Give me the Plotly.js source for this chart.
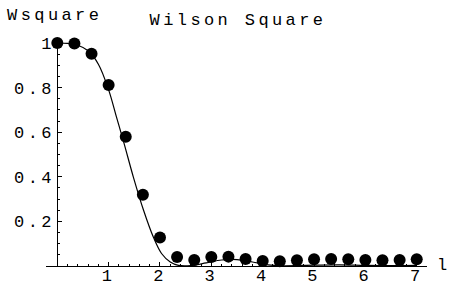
<!DOCTYPE html>
<html>
<head>
<meta charset="utf-8">
<script src="https://cdn.plot.ly/plotly-3.0.1.min.js"></script>
<style>
  html, body { margin: 0; padding: 0; background: #fff; }
  #chart text { letter-spacing: 3.4px; }
  #chart .annotation[data-index="1"] text { letter-spacing: 0; }
</style>
</head>
<body>
<div id="chart" style="width:449px;height:286px;"></div>
<script>
// Sampled points (dots)
const pointL = [0, 0.333, 0.667, 1, 1.333, 1.667, 2, 2.333, 2.667, 3, 3.333, 3.667,
                4, 4.333, 4.667, 5, 5.333, 5.667, 6, 6.333, 6.667, 7];
const pointW = [1.0, 0.998, 0.952, 0.812, 0.58, 0.319, 0.128, 0.04, 0.027, 0.04, 0.042, 0.031,
                0.022, 0.021, 0.026, 0.030, 0.031, 0.030, 0.027, 0.026, 0.027, 0.030];

// Continuous curve
const curveL = [0, 0.2, 0.4, 0.6, 0.8, 1.0, 1.15, 1.3, 1.48, 1.68, 1.87, 2.03, 2.2, 2.36,
                2.6, 2.9, 3.2, 3.5, 3.8, 4.1, 4.4, 5.0, 5.5, 6.0, 6.5, 7.0];
const curveW = [1.0, 0.998, 0.99, 0.965, 0.905, 0.79, 0.67, 0.55, 0.40, 0.25, 0.13, 0.056, 0.018, 0.003,
                0.002, 0.014, 0.027, 0.029, 0.018, 0.005, 0.001, 0.004, 0.005, 0.003, 0.002, 0.003];

const xTickVals = [1, 2, 3, 4, 5, 6, 7];
const xTickText = ['1', '2', '3', '4', '5', '6', '7'];
const yTickVals = [0.2, 0.4, 0.6, 0.8, 1];
const yTickText = ['0.2', '0.4', '0.6', '0.8', '1'];
const xMinorVals = [];
for (let i = 1; i <= 36; i++) xMinorVals.push(i * 0.2);
const yMinorVals = [];
for (let i = 1; i <= 20; i++) yMinorVals.push(i * 0.05);

const FONT = 'Liberation Mono, Courier New, monospace';
const FS = 17;
const W = 449, H = 286;
const mL = 46, mR = 22, mT = 42, mB = 20;
const xRange = [-0.22, 7.2];
const yPos = (0 - xRange[0]) / (xRange[1] - xRange[0]);
const pw = W - mL - mR, ph = H - mT - mB;
function px2paperX(px) { return (px - mL) / pw; }
function px2paperY(py) { return (H - mB - py) / ph; }

const traces = [
  {
    x: curveL, y: curveW, type: 'scatter', mode: 'lines',
    line: { color: '#000', width: 1.2, shape: 'spline', smoothing: 1 },
    hoverinfo: 'skip'
  },
  {
    x: pointL, y: pointW, type: 'scatter', mode: 'markers',
    marker: { color: '#000', size: 12 },
    cliponaxis: false
  }
];

const layout = {
  width: W, height: H,
  margin: { l: mL, r: mR, t: mT, b: mB, pad: 0 },
  paper_bgcolor: '#fff', plot_bgcolor: '#fff',
  showlegend: false,
  font: { family: FONT, size: FS, color: '#000' },
  title: {
    text: 'Wilson Square',
    font: { family: FONT, size: FS, color: '#000' },
    xref: 'paper', x: px2paperX(238), xanchor: 'center',
    yref: 'container', y: 1 - 19 / H, yanchor: 'middle'
  },
  xaxis: {
    range: xRange, showgrid: false, zeroline: false,
    showline: true, linecolor: '#000', linewidth: 1,
    ticks: 'inside', ticklen: 4, tickwidth: 1, tickcolor: '#000',
    tickmode: 'array', tickvals: xTickVals, ticktext: xTickText,
    ticklabelstandoff: -6,
    tickfont: { family: FONT, size: FS, color: '#000' },
    minor: { tickmode: 'array', tickvals: xMinorVals, ticks: 'inside', ticklen: 2, tickwidth: 1, tickcolor: '#000', showgrid: false }
  },
  yaxis: {
    range: [0, 1.0045], showgrid: false, zeroline: false,
    anchor: 'free', position: yPos, side: 'left',
    showline: true, linecolor: '#000', linewidth: 1,
    ticks: 'inside', ticklen: 4, tickwidth: 1, tickcolor: '#000',
    tickmode: 'array', tickvals: yTickVals, ticktext: yTickText,
    ticklabelstandoff: -1,
    tickfont: { family: FONT, size: FS, color: '#000' },
    minor: { tickmode: 'array', tickvals: yMinorVals, ticks: 'inside', ticklen: 2, tickwidth: 1, tickcolor: '#000', showgrid: false }
  },
  annotations: [
    {
      text: 'Wsquare', xref: 'paper', yref: 'paper',
      x: px2paperX(17), xanchor: 'left', y: px2paperY(16), yanchor: 'middle',
      showarrow: false, font: { family: FONT, size: FS, color: '#000' }
    },
    {
      text: 'l', xref: 'paper', yref: 'paper',
      x: px2paperX(442), xanchor: 'center', y: px2paperY(265), yanchor: 'middle',
      showarrow: false, font: { family: FONT, size: FS, color: '#000' }
    }
  ]
};

Plotly.newPlot('chart', traces, layout, { staticPlot: true, displayModeBar: false });
</script>
</body>
</html>
